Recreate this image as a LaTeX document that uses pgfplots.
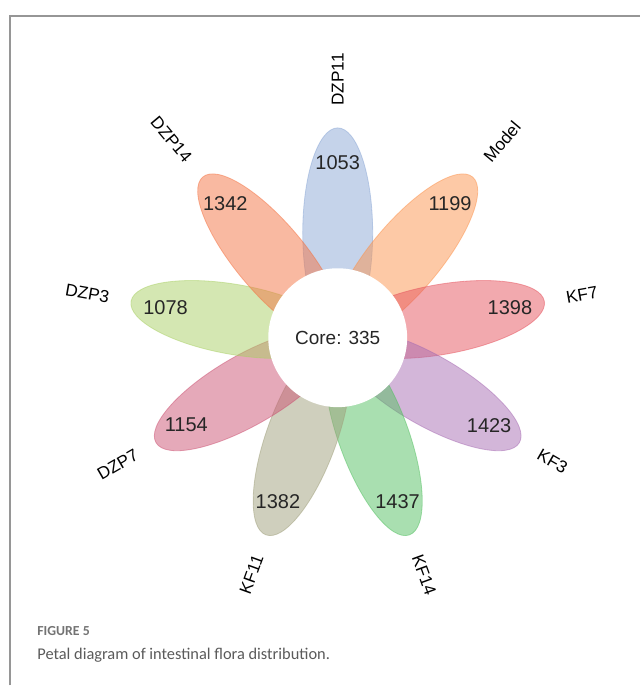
\documentclass[border=0pt]{standalone}
\usepackage{pgfplots}
\usepackage{pgfplotstable}
\pgfplotsset{compat=1.18}
\usetikzlibrary{shapes.geometric}
\usepackage{fontspec}
\setmainfont{Liberation Sans}
\newfontfamily\capfont{Carlito}
\definecolor{cA}{RGB}{139,167,213}
\definecolor{cB}{RGB}{251,147,77}
\definecolor{cC}{RGB}{229,83,93}
\definecolor{cD}{RGB}{167,109,179}
\definecolor{cE}{RGB}{83,191,97}
\definecolor{cF}{RGB}{159,159,123}
\definecolor{cG}{RGB}{203,83,115}
\definecolor{cH}{RGB}{169,207,101}
\definecolor{cI}{RGB}{243,115,67}
\definecolor{framegray}{RGB}{150,150,150}
\definecolor{capgray}{RGB}{90,90,90}

\pgfplotstableread{
name  angle value idx rot sd
DZP11 90   1053 0 90  1
Model 50   1199 1 50  1
KF7   10   1398 2 10  1
KF3   -30  1423 3 -30 1
KF14  -70  1437 4 -70 1
KF11  -110 1382 5 70  0
DZP7  -150 1154 6 30  0
DZP3  170  1078 7 -10 0
DZP14 130  1342 8 -50 0
}\petals

\begin{document}
\begin{tikzpicture}
\begin{axis}[
  x=0.5pt, y=0.5pt,
  xmin=-338, xmax=303, ymin=-348, ymax=338,
  hide axis, clip=false,
]
\path (axis cs:-338,-348) rectangle (axis cs:303,338);
% frame
\draw[framegray, line width=0.6pt] (axis cs:-328,-348) -- (axis cs:-328,322) -- (axis cs:303,322);

% petals
\addplot[only marks, mark=none, point meta=explicit symbolic,
  visualization depends on={\thisrow{angle}\as\ang},
  visualization depends on={\thisrow{idx}\as\pidx},
  nodes near coords={\vphantom{x}},
  every node near coord/.style={shape=ellipse, anchor=center, inner sep=0pt,
     minimum width=105pt, minimum height=35pt, rotate=\ang,
     fill opacity=0.5, draw opacity=0.5, line width=0.4pt},
  every node near coord/.append code={%
    \pgfmathtruncatemacro\k{\pidx}%
    \ifcase\k \pgfkeysalso{fill=cA,draw=cA}\or \pgfkeysalso{fill=cB,draw=cB}\or
    \pgfkeysalso{fill=cC,draw=cC}\or \pgfkeysalso{fill=cD,draw=cD}\or
    \pgfkeysalso{fill=cE,draw=cE}\or \pgfkeysalso{fill=cF,draw=cF}\or
    \pgfkeysalso{fill=cG,draw=cG}\or \pgfkeysalso{fill=cH,draw=cH}\or
    \pgfkeysalso{fill=cI,draw=cI}\fi},
] table[x expr={105*cos(\thisrow{angle})}, y expr={105*sin(\thisrow{angle})}, meta=name] {\petals};

% core circle
\addplot[only marks, mark=none, point meta=explicit symbolic,
  nodes near coords={Core: 335},
  every node near coord/.style={shape=circle, anchor=center, fill=white, draw=none,
     minimum size=69.5pt, inner sep=0pt, font=\fontsize{9.5}{11}\selectfont, text=black!85},
] coordinates {(0,0) [core]};

% values
\addplot[only marks, mark=none, point meta=explicit symbolic,
  nodes near coords,
  every node near coord/.style={anchor=center, font=\fontsize{10}{11}\selectfont, text=black!85},
] table[x expr={175*cos(\thisrow{angle})}, y expr={175*sin(\thisrow{angle})}, meta=value] {\petals};

% group names
\addplot[only marks, mark=none, point meta=explicit symbolic,
  visualization depends on={\thisrow{rot}\as\rot},
  visualization depends on={\thisrow{sd}\as\sd},
  nodes near coords,
  every node near coord/.style={rotate=\rot, inner sep=0pt, font=\fontsize{8.6}{10}\selectfont},
  every node near coord/.append code={\ifdim\sd pt>0.5pt \pgfkeysalso{anchor=west}\else\pgfkeysalso{anchor=east}\fi},
] table[x expr={232*cos(\thisrow{angle})}, y expr={232*sin(\thisrow{angle})}, meta=name] {\petals};

% caption
\node[anchor=west, inner sep=0pt, text=capgray!85] at (axis cs:-301,-294) {\capfont\bfseries\fontsize{6.9}{8}\selectfont FIGURE 5};
\node[anchor=west, inner sep=0pt, text=capgray] at (axis cs:-301,-318) {\capfont\fontsize{8.2}{10}\selectfont Petal diagram of intestinal flora distribution.};
\end{axis}
\end{tikzpicture}
\end{document}
